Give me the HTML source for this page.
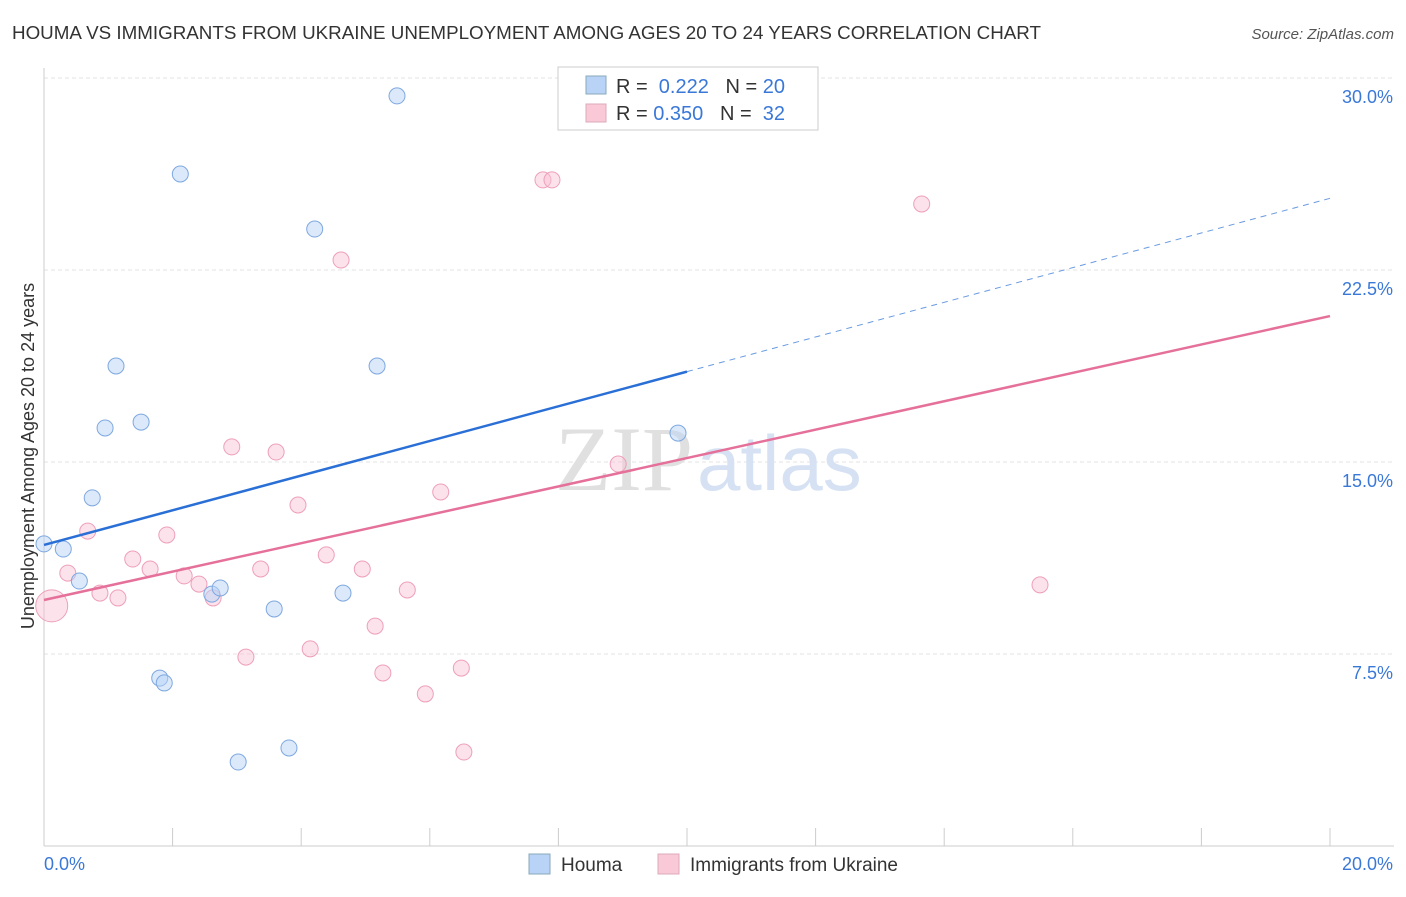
<!DOCTYPE html>
<html><head><meta charset="utf-8"><style>
body{margin:0;background:#fff;font-family:"Liberation Sans",sans-serif}
</style></head><body>
<svg width="1406" height="892" xmlns="http://www.w3.org/2000/svg" style="font-family:'Liberation Sans',sans-serif">
<text x="12" y="39" font-size="18.8" fill="#333">HOUMA VS IMMIGRANTS FROM UKRAINE UNEMPLOYMENT AMONG AGES 20 TO 24 YEARS CORRELATION CHART</text>
<text x="1394" y="39" font-size="15" fill="#555" text-anchor="end" font-style="italic">Source: ZipAtlas.com</text>
<g id="grid"></g>
<text x="555" y="490" font-size="92" fill="#e0e0e0" font-family="Liberation Serif">ZIP<tspan dx="4" fill="#d6e2f3" font-family="Liberation Sans" font-size="78">atlas</tspan></text>
<g id="marks"></g>
<text transform="translate(34,456) rotate(-90)" font-size="18" fill="#333" text-anchor="middle">Unemployment Among Ages 20 to 24 years</text>
<g>
<rect x="558" y="67" width="260" height="63" fill="#fff" stroke="#ccc"/>
<rect x="586" y="76" width="20" height="18" fill="#b8d3f5" stroke="#8ab"/>
<text x="616" y="93" font-size="20" fill="#333">R = <tspan fill="#3a78d8">&#160;0.222</tspan>&#160;&#160;&#160;N = <tspan fill="#3a78d8">20</tspan></text>
<rect x="586" y="104" width="20" height="18" fill="#f9c9d7" stroke="#dab"/>
<text x="616" y="120" font-size="20" fill="#333">R = <tspan fill="#3a78d8">0.350</tspan>&#160;&#160;&#160;N = <tspan fill="#3a78d8">&#160;32</tspan></text>
</g>
<g>
<rect x="529" y="854" width="21" height="20" fill="#b8d3f5" stroke="#8ab"/>
<text x="561" y="871" font-size="19" fill="#333">Houma</text>
<rect x="658" y="854" width="21" height="20" fill="#f9c9d7" stroke="#dab"/>
<text x="690" y="871" font-size="19" fill="#333">Immigrants from Ukraine</text>
</g>
</svg>
<script>
const blueX=[0,0.3,0.55,0.75,0.95,1.12,1.51,1.8,1.87,2.12,2.61,2.74,3.02,3.58,3.81,4.21,4.65,5.18,5.49,9.86];
const blueY=[11.8,11.6,10.35,13.6,16.33,18.75,16.56,6.56,6.37,26.25,9.84,10.08,3.28,9.26,3.83,24.1,9.88,18.75,29.3,16.13];
const pinkX=[0.12,0.37,0.68,0.87,1.15,1.38,1.65,1.91,2.18,2.41,2.63,2.92,3.14,3.37,3.61,3.95,4.14,4.39,4.62,4.95,5.15,5.27,5.65,5.93,6.17,6.49,6.53,7.76,7.9,8.93,13.65,15.49];
const pinkY=[9.38,10.66,12.3,9.88,9.69,11.21,10.82,12.15,10.55,10.23,9.69,15.59,7.38,10.82,15.39,13.32,7.7,11.37,22.89,10.82,8.59,6.76,10.0,5.94,13.83,6.95,3.67,26.02,26.02,14.92,25.08,10.2];
const yTicks=[7.5,15,22.5,30];
const yTickLabels=["7.5%","15.0%","22.5%","30.0%"];
const blueTrend=[11.76,25.3];
const pinkTrend=[9.61,20.7];
const NS="http://www.w3.org/2000/svg";
const xs=v=>44+v*64.3, ys=v=>846-v*25.6;
function mk(t,a,p){const e=document.createElementNS(NS,t);for(const k in a)e.setAttribute(k,a[k]);p.appendChild(e);return e;}
const g=document.getElementById('grid'),m=document.getElementById('marks');
yTicks.forEach((t,i)=>{
 const l=mk('line',{x1:44,x2:1394,y1:ys(t),y2:ys(t),stroke:'#e3e3e3','stroke-dasharray':'4,3'},g);
 
 
 const tx=mk('text',{x:1393,y:ys(t)+25,'font-size':18,fill:'#3a78d8','text-anchor':'end'},g);
 tx.textContent=yTickLabels[i];
 
 
});
mk('line',{x1:44,x2:44,y1:68,y2:846,stroke:'#ccc'},g);
mk('line',{x1:44,x2:1394,y1:846,y2:846,stroke:'#ccc'},g);
for(let i=1;i<=10;i++){mk('line',{x1:xs(i*2),x2:xs(i*2),y1:828,y2:846,stroke:'#ccc'},g);}
const x0=mk('text',{x:44,y:870,'font-size':18,fill:'#3a78d8'},g);x0.textContent="0.0%";

const x1=mk('text',{x:1393,y:870,'font-size':18,fill:'#3a78d8','text-anchor':'end'},g);x1.textContent="20.0%";

pinkX.forEach((x,i)=>{const c=mk('circle',{cx:xs(x),cy:ys(pinkY[i]),r:i==0?16:8,fill:'rgba(249,190,210,0.45)',stroke:'#ee9fba','stroke-width':1},m);
 });
blueX.forEach((x,i)=>{const c=mk('circle',{cx:xs(x),cy:ys(blueY[i]),r:8,fill:'rgba(184,211,245,0.5)',stroke:'#7ea8e0','stroke-width':1},m);
 });
const bm=blueTrend[0]+(blueTrend[1]-blueTrend[0])*0.5;
const b1=mk('line',{x1:xs(0),y1:ys(blueTrend[0]),x2:xs(10),y2:ys(bm),stroke:'#2a6fd6','stroke-width':2.5},m);

const b2=mk('line',{x1:xs(10),y1:ys(bm),x2:xs(20),y2:ys(blueTrend[1]),stroke:'#6a9be0','stroke-width':1,'stroke-dasharray':'6,5'},m);

const p1=mk('line',{x1:xs(0),y1:ys(pinkTrend[0]),x2:xs(20),y2:ys(pinkTrend[1]),stroke:'#e5709a','stroke-width':2.5},m);

</script>
</body></html>
